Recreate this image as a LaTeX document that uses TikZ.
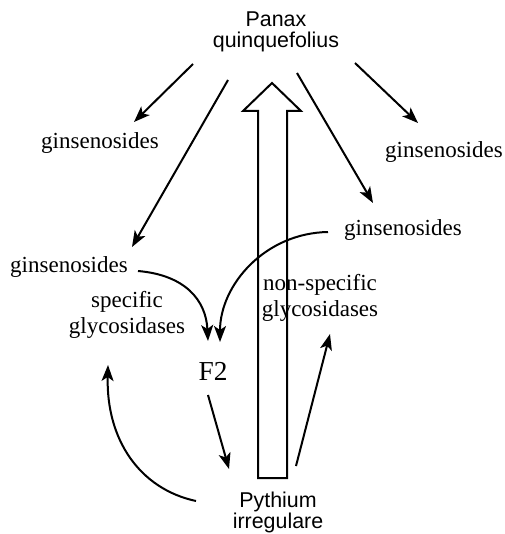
\documentclass[tikz,border=0pt]{standalone}
\usepackage{fontspec}
\setmainfont{Liberation Serif}
\newfontfamily\labelsans{Liberation Sans}
\usetikzlibrary{arrows.meta}

\begin{document}
\begin{tikzpicture}[x=0.5pt, y=-0.5pt,
    serif/.style={font=\fontsize{11.5}{13}\selectfont, align=center, inner sep=0pt},
    organism/.style={font=\labelsans\fontsize{10.7}{10.5}\selectfont, align=center, inner sep=0pt},
    flow/.style={-{Stealth[length=8pt,width=6pt,inset=2pt]}, line width=1pt}]
      \useasboundingbox (0,0) rectangle (504,534);
      % organisms
      \node[organism] (panax) at (276,32) {Panax\\quinquefolius};
      \node[organism] (pyth) at (278,512) {Pythium\\irregulare};
      % ginsenosides
      \node[serif] (g1) at (100,143) {ginsenosides};
      \node[serif] (g2) at (444,152) {ginsenosides};
      \node[serif] (g3) at (403,230) {ginsenosides};
      \node[serif] (g4) at (69,267)  {ginsenosides};
      \node[serif] (spec) at (127,315) {specific\\glycosidases};
      \node[serif] (nonspec) at (320,298) {non-specific\\glycosidases};
      \node[serif, font=\fontsize{13.7}{15}\selectfont] (f2) at (213,371) {F2};
      % hollow arrow
      \draw[line width=1pt] (258,478) -- (258,111) -- (243,111) -- (272,83)
            -- (301,111) -- (287,111) -- (287,478) -- cycle;
      % arrows from the plant
      \draw[flow] ([shift={(-83,32)}]panax.center) -- ([shift={(34,-21)}]g1.center);
      \draw[flow] ([shift={(-48,48)}]panax.center) -- ([shift={(63,-20)}]g4.center);
      \draw[flow] ([shift={(21,41)}]panax.center) -- ([shift={(-30,-27)}]g3.center);
      \draw[flow] ([shift={(79,31)}]panax.center) -- ([shift={(-26,-29)}]g2.center);
      % towards F2
      \draw[flow] ([shift={(69,4)}]g4.center) .. controls +(47,4) and +(-2,-41) .. ([shift={(-5,-30)}]f2.center);
      \draw[flow] ([shift={(-75,2)}]g3.center) .. controls +(-63,1) and +(0,-57) .. ([shift={(7,-29)}]f2.center);
      % cycle with the fungus
      \draw[flow] ([shift={(-5,24)}]f2.center) -- ([shift={(-49,-43)}]pyth.center);
      \draw[flow] ([shift={(18,-46)}]pyth.center) -- ([shift={(10,36)}]nonspec.center);
      \draw[flow] ([shift={(-82,-11)}]pyth.center) .. controls +(-56,-12) and +(-2,75) .. ([shift={(-19,50)}]spec.center);
\end{tikzpicture}
\end{document}
